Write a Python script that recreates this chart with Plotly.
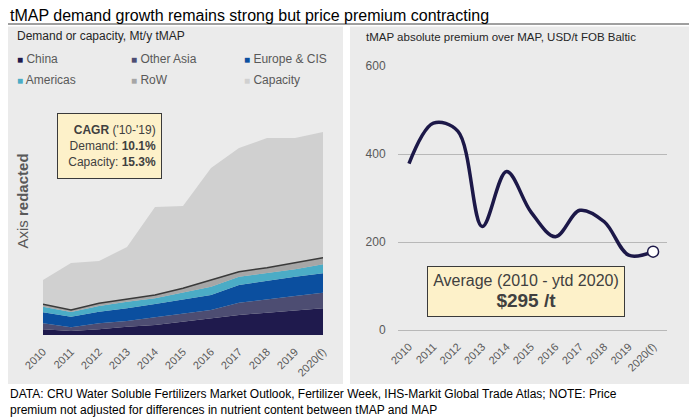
import plotly.graph_objects as go

# page body has an 8px margin, so the figure is 8px smaller than the window
W, H = 689, 409
OFF = 8

years = ["2010", "2011", "2012", "2013", "2014", "2015", "2016", "2017", "2018", "2019", "2020(f)"]

# left chart, demand by region and capacity (axis redacted, relative units)
china = [5.7, 4.0, 5.7, 8.3, 10.0, 13.3, 16.7, 20.0, 22.3, 24.3, 26.7]
other_asia = [6.0, 3.7, 6.0, 5.7, 7.7, 8.4, 8.3, 12.3, 13.7, 14.7, 15.6]
europe_cis = [11.0, 10.6, 11.6, 12.7, 13.3, 14.0, 15.0, 17.7, 18.3, 19.3, 19.4]
americas = [5.6, 4.7, 5.7, 6.6, 5.7, 6.6, 8.3, 8.3, 7.4, 7.4, 9.0]
row = [2.4, 2.0, 2.7, 2.7, 3.3, 4.4, 6.7, 5.0, 5.6, 6.6, 6.6]
capacity = [55, 72, 74, 88, 128, 129, 167, 187, 197, 197, 203]

# right chart, tMAP premium over MAP, USD/t
premium = [378, 470, 452, 235, 360, 268, 212, 272, 246, 170, 178]

FONT = "Arial, Liberation Sans, sans-serif"
GREY_TXT = "#595959"
BOX_FILL = "#fdf1c9"


# positions below are given in window pixels
def px_x(v):
    return max(v - OFF, 0) / W


def px_y(v):
    return 1 - max(v - OFF, 0) / H


fig = go.Figure()

fig.add_trace(go.Scatter(x=years, y=capacity, name="Capacity", mode="lines",
                         fill="tozeroy", fillcolor="#d0d0d0",
                         line=dict(width=0, color="#d0d0d0"),
                         xaxis="x", yaxis="y", showlegend=False))

regions = [("China", china, "#1f1a4d"),
           ("Other Asia", other_asia, "#4d4d72"),
           ("Europe & CIS", europe_cis, "#0b4f9f"),
           ("Americas", americas, "#4bacc6"),
           ("RoW", row, "#a6a6a6")]
for name, vals, col in regions:
    lw = 1.6 if name == "RoW" else 0
    lc = "#3a3a3a" if name == "RoW" else col
    fig.add_trace(go.Scatter(x=years, y=vals, name=name, mode="lines",
                             stackgroup="demand", fillcolor=col,
                             line=dict(width=lw, color=lc),
                             xaxis="x", yaxis="y", showlegend=False))

fig.add_trace(go.Scatter(x=years, y=premium, mode="lines",
                         line=dict(color="#1c1848", width=3.5, shape="spline", smoothing=1),
                         xaxis="x2", yaxis="y2", showlegend=False))
fig.add_trace(go.Scatter(x=[years[-1]], y=[premium[-1]], mode="markers",
                         marker=dict(size=11, color="white", line=dict(color="#1c1848", width=1.5)),
                         xaxis="x2", yaxis="y2", showlegend=False))

shapes = [
    dict(type="rect", xref="paper", yref="paper", x0=px_x(8), x1=px_x(343),
         y0=px_y(384), y1=px_y(26.5), fillcolor="#ebebeb", line=dict(width=0), layer="below"),
    dict(type="rect", xref="paper", yref="paper", x0=px_x(350), x1=px_x(690),
         y0=px_y(384), y1=px_y(26.5), fillcolor="#ebebeb", line=dict(width=0), layer="below"),
    dict(type="line", xref="paper", yref="paper", x0=0, x1=1,
         y0=px_y(24), y1=px_y(24), line=dict(color="#404040", width=1)),
]

annotations = [
    dict(text="tMAP demand growth remains strong but price premium contracting",
         x=px_x(8), y=px_y(15.2), xanchor="left", yanchor="middle",
         font=dict(size=16, color="#000000")),
    dict(text="Demand or capacity, Mt/y tMAP", x=px_x(15), y=px_y(36),
         xanchor="left", yanchor="middle", font=dict(size=12, color="#262626")),
    dict(text="tMAP absolute premium over MAP, USD/t FOB Baltic", x=px_x(364), y=px_y(37),
         xanchor="left", yanchor="middle", font=dict(size=11.5, color="#262626")),
    dict(text="Axis <b>redacted</b>", x=px_x(21.5), y=px_y(201), textangle=-90,
         xanchor="center", yanchor="middle", font=dict(size=15, color=GREY_TXT)),
    dict(text="<b>CAGR</b> ('10-'19)<br>Demand: <b>10.1%</b><br>Capacity: <b>15.3%</b>",
         x=px_x(109.5), y=px_y(146), xanchor="center", yanchor="middle", align="right",
         width=93, height=54,
         font=dict(size=12, color="#404040"), bgcolor=BOX_FILL,
         bordercolor="#3a3a3a", borderwidth=1, borderpad=5),
    dict(text="Average (2010 - ytd 2020)<br><b><span style='font-size:19px'>$295 /t</span></b>",
         x=px_x(526), y=px_y(291.5), xanchor="center", yanchor="middle", align="center",
         width=190, height=43,
         font=dict(size=16, color="#404040"), bgcolor=BOX_FILL,
         bordercolor="#3a3a3a", borderwidth=1, borderpad=3),
    dict(text="DATA: CRU Water Soluble Fertilizers Market Outlook, Fertilizer Week, IHS-Markit Global Trade Atlas; NOTE: Price<br>"
              "premium not adjusted for differences in nutrient content between tMAP and MAP",
         x=px_x(8), y=px_y(385), xanchor="left", yanchor="top", align="left",
         font=dict(size=12, color="#000000")),
]

# legend built as text entries with coloured squares
legend_items = [("China", "#1f1a4d", 15, 58.5), ("Other Asia", "#4d4d72", 129, 58.5),
                ("Europe & CIS", "#0b4f9f", 242, 58.5), ("Americas", "#4bacc6", 15, 80),
                ("RoW", "#a6a6a6", 129, 80), ("Capacity", "#d0d0d0", 242, 80)]
for name, col, lx, ly in legend_items:
    annotations.append(dict(
        text=f"<span style='color:{col};font-size:10px'>■</span> {name}",
        x=px_x(lx), y=px_y(ly), xanchor="left", yanchor="middle",
        font=dict(size=12, color=GREY_TXT)))

for a in annotations:
    a.update(xref="paper", yref="paper", showarrow=False)

fig.update_layout(
    width=W, height=H,
    margin=dict(l=0, r=0, t=0, b=0, autoexpand=False),
    paper_bgcolor="white", plot_bgcolor="rgba(0,0,0,0)",
    font=dict(family=FONT, color=GREY_TXT),
    shapes=shapes, annotations=annotations,
    xaxis=dict(domain=[px_x(43), px_x(323)], range=[0, 10], type="category",
               tickangle=-45, tickfont=dict(size=11, color=GREY_TXT),
               showgrid=False, zeroline=False, showline=False,
               ticks="outside", ticklen=5, tickcolor="rgba(0,0,0,0)",
               automargin=False, anchor="y"),
    yaxis=dict(domain=[px_y(335), px_y(100)], range=[0, 235],
               visible=False, showgrid=False, zeroline=False, automargin=False, anchor="x"),
    xaxis2=dict(domain=[px_x(398), px_x(667)], range=[-0.45, 10.57], type="category",
                tickangle=-45, tickfont=dict(size=11, color=GREY_TXT),
                showgrid=False, zeroline=False, showline=False,
                ticks="outside", ticklen=5, tickcolor="rgba(0,0,0,0)",
                automargin=False, anchor="y2"),
    yaxis2=dict(domain=[px_y(330), px_y(66)], range=[0, 600],
                tickvals=[0, 200, 400, 600], tickfont=dict(size=12, color=GREY_TXT),
                showgrid=True, gridcolor="#b8b8b8", gridwidth=1,
                zeroline=True, zerolinecolor="#b8b8b8", zerolinewidth=1,
                ticks="outside", ticklen=9, tickcolor="rgba(0,0,0,0)",
                automargin=False, anchor="x2"),
)

fig.write_html("out.html")
